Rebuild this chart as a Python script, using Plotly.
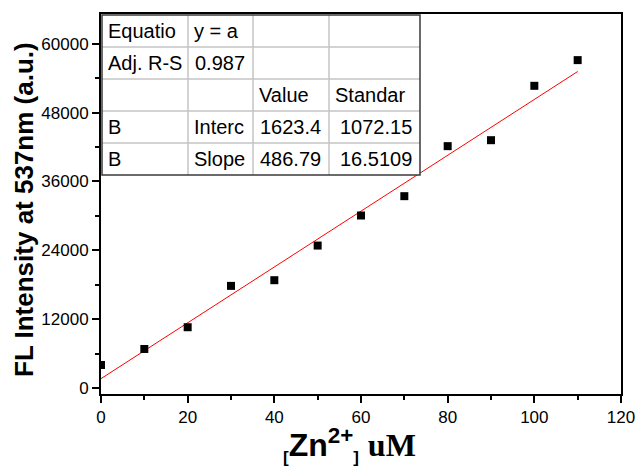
import plotly.graph_objects as go

# Zn2+ titration: fluorescence intensity at 537 nm
zn_conc = [0, 10, 20, 30, 40, 50, 60, 70, 80, 90, 100, 110]
fl_intensity = [4010, 6800, 10590, 17800, 18790, 24830, 30070, 33440, 42160, 43200, 52680, 57160]

# Linear fit results (y = a + b*x)
fit_intercept = 1623.4
fit_intercept_err = 1072.15
fit_slope = 486.79
fit_slope_err = 16.5109
adj_r_square = 0.987

x_ticks = [0, 20, 40, 60, 80, 100, 120]
y_ticks = [0, 12000, 24000, 36000, 48000, 60000]

W, H = 635, 470
ML, MR, MT, MB = 101, 14, 14, 76
PW, PH = W - ML - MR, H - MT - MB

FONT = "Liberation Sans, Arial, sans-serif"


def px(xp):
    return (xp - ML) / PW


def py(yp):
    return (H - MB - yp) / PH


fit_x = [min(zn_conc), max(zn_conc)]
fit_y = [fit_intercept + fit_slope * v for v in fit_x]

fig = go.Figure()
fig.add_trace(go.Scatter(
    x=fit_x, y=fit_y, mode="lines",
    line=dict(color="#ff0000", width=1), showlegend=False, hoverinfo="skip",
))
fig.add_trace(go.Scatter(
    x=zn_conc, y=fl_intensity, mode="markers",
    marker=dict(symbol="square", size=8, color="black", line=dict(width=0)),
    showlegend=False,
))

axis_font = dict(family=FONT, size=17, color="black")

fig.update_layout(
    width=W, height=H,
    margin=dict(l=ML, r=MR, t=MT, b=MB, pad=0, autoexpand=False),
    paper_bgcolor="white", plot_bgcolor="white",
    font=dict(family=FONT, color="black"),
    xaxis=dict(
        range=[0, 120], tickvals=x_ticks, ticktext=[str(v) for v in x_ticks],
        ticks="outside", ticklen=7, tickwidth=1.5, tickcolor="black",
        minor=dict(tickvals=[10, 30, 50, 70, 90, 110], ticks="outside", ticklen=4,
                   tickwidth=1.5, tickcolor="black"),
        showline=True, linecolor="black", linewidth=2, mirror=True,
        ticklabeloverflow="allow",
        showgrid=False, zeroline=False, tickfont=axis_font,
    ),
    yaxis=dict(
        range=[-1050, 65200], tickvals=y_ticks, ticktext=[str(v) for v in y_ticks],
        ticks="outside", ticklen=7, tickwidth=1.5, tickcolor="black",
        minor=dict(tickvals=[6000, 18000, 30000, 42000, 54000], ticks="outside",
                   ticklen=4, tickwidth=1.5, tickcolor="black"),
        showline=True, linecolor="black", linewidth=2, mirror=True,
        ticklabeloverflow="allow",
        showgrid=False, zeroline=False, tickfont=axis_font,
    ),
    xaxis2=dict(
        overlaying="x", side="top", anchor="y2", range=[0, 10], dtick=1,
        ticks="inside", ticklen=3, tickwidth=1.5, tickcolor="#333333",
        showticklabels=False, showline=True, linecolor="#333333", linewidth=2,
        showgrid=False, zeroline=False,
    ),
    yaxis2=dict(
        overlaying="y", side="right", anchor="x2", range=[0, 10], dtick=1,
        ticks="inside", ticklen=3, tickwidth=1.5, tickcolor="#333333",
        showticklabels=False, showline=True, linecolor="#333333", linewidth=2,
        showgrid=False, zeroline=False,
    ),
)

# Fit-parameter table in the upper-left corner
col_edges = [102, 188, 253, 329, 420]
row_edges = [15, 47, 79, 111, 143, 175]
table_rows = [
    ["Equatio", "y = a", "", ""],
    ["Adj. R-S", f"{adj_r_square:.3f}", "", ""],
    ["", "", "Value", "Standar"],
    ["B", "Interc", f"{fit_intercept:.1f}", f"{fit_intercept_err:.2f}"],
    ["B", "Slope", f"{fit_slope:.2f}", f"{fit_slope_err:.4f}"],
]

shapes = [dict(type="rect", xref="paper", yref="paper", layer="above",
               x0=px(col_edges[0]), x1=px(col_edges[-1]),
               y0=py(row_edges[-1]), y1=py(row_edges[0]),
               fillcolor="white", line=dict(width=0))]
for c in col_edges[1:-1]:
    shapes.append(dict(type="line", xref="paper", yref="paper", layer="above",
                       x0=px(c), x1=px(c), y0=py(row_edges[-1]), y1=py(row_edges[0]),
                       line=dict(color="#c4c4c4", width=1.5)))
for r in row_edges[1:-1]:
    shapes.append(dict(type="line", xref="paper", yref="paper", layer="above",
                       x0=px(col_edges[0]), x1=px(col_edges[-1]), y0=py(r), y1=py(r),
                       line=dict(color="#c4c4c4", width=1.5)))
shapes.append(dict(type="rect", xref="paper", yref="paper", layer="above",
                   x0=px(col_edges[0]), x1=px(col_edges[-1]),
                   y0=py(row_edges[-1]), y1=py(row_edges[0]),
                   line=dict(color="#3a3a3a", width=1.5)))

annotations = []
for ri, row in enumerate(table_rows):
    yc = (row_edges[ri] + row_edges[ri + 1]) / 2
    for ci, txt in enumerate(row):
        if not txt:
            continue
        numeric = txt.replace(".", "").isdigit()
        if numeric:
            xa, anchor = col_edges[ci + 1] - 6, "right"
        else:
            xa, anchor = col_edges[ci] + 4, "left"
        annotations.append(dict(
            text=txt, xref="paper", yref="paper", x=px(xa), y=py(yc),
            xanchor=anchor, yanchor="middle", showarrow=False,
            font=dict(family=FONT, size=20, color="black"),
        ))

# Axis titles
annotations.append(dict(
    text="FL Intensity at 537nm (a.u.)", xref="paper", yref="paper",
    x=px(24), y=py(210), xanchor="center", yanchor="middle", textangle=-90,
    showarrow=False, font=dict(family=FONT, size=26, color="black", weight="bold"),
))
annotations.append(dict(
    text=('<sub><span style="font-size:17px">[</span></sub>Zn<sup>2+</sup>'
          '<sub><span style="font-size:17px">]</span></sub> '
          '<span style="font-family:Liberation Serif">uM</span>'),
    xref="paper", yref="paper", x=px(349.5), y=py(445),
    xanchor="center", yanchor="middle", showarrow=False,
    font=dict(family=FONT, size=32, color="black", weight="bold"),
))

fig.update_layout(shapes=shapes, annotations=annotations)

fig.write_html("out.html")
